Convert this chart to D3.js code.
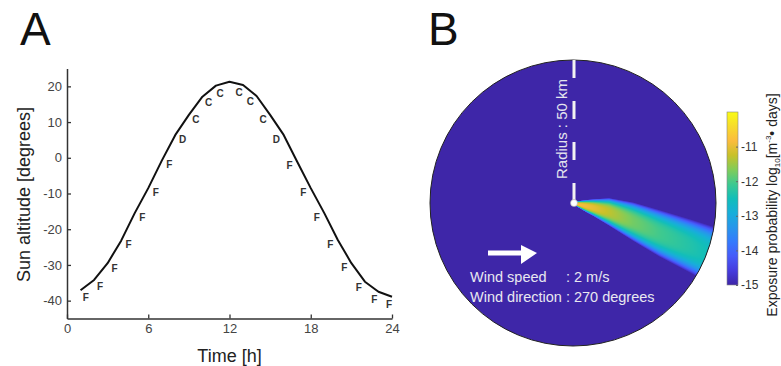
<!DOCTYPE html>
<html><head><meta charset="utf-8">
<script src="https://cdn.jsdelivr.net/npm/d3@7"></script>
<style>
body{margin:0;background:#fff}
svg{display:block}
text{font-family:"Liberation Sans",Arial,Helvetica,sans-serif}
</style>
</head><body>
<svg id="c" width="781" height="366"></svg>
<script>
// ---------- Panel A data ----------
const hours = [1,2,3,4,5,6,7,8,9,10,11,12,13,14,15,16,17,18,19,20,21,22,23,24];
const altitude = [-37.1,-34.2,-29.5,-23.2,-15.5,-8.5,-0.8,6.4,12.0,17.1,20.2,21.3,20.4,17.3,12.0,6.4,-1.1,-8.5,-15.5,-23.0,-29.5,-34.7,-37.5,-38.9];
const stability = ["F","F","F","F","F","F","F","D","C","C","C","","C","C","C","D","F","F","F","F","F","F","F","F"];
const xTicks = [0,6,12,18,24];
const yTicks = [-40,-30,-20,-10,0,10,20];

// ---------- Panel B data (plume read along downwind distance, km) ----------
const plumeDistKm      = [0, 4.5, 7, 12.6, 21, 30, 41.6, 50];
const plumeCenterKm    = [0, 1.05, 1.6, 3.1, 6.5, 10.5, 15.3, 19.0];
const plumeHalfWidthKm = [0.5, 2.2, 3.0, 4.9, 6.8, 8.2, 9.5, 10.5];
const plumeLogValue    = [-10.8, -10.9, -11.0, -11.3, -11.75, -12.05, -12.35, -12.6];
const radiusKm = 50;
const cbTicks = [-15,-14,-13,-12,-11];
const cbDomain = [-15,-10];
// parula colormap stops
const parula = ["#3e26a8","#463cde","#475bf9","#347afd","#2796eb","#17aeda","#12beb9","#3dc990","#81cc59","#c8c129","#fbbc3d","#f7db2b","#f9fb15"];

const svg = d3.select("#c");
const fmt = d => String(d);

// ================= Panel A =================
const x = d3.scaleLinear([0,24],[67,392]);
const y = d3.scaleLinear([-45,25],[318.5,68.5]);

const gA = svg.append("g");
const yAxis = gA.append("g").attr("transform",`translate(${x(0)},0)`)
  .call(d3.axisLeft(y).tickValues(yTicks).tickFormat(fmt).tickSizeInner(-4).tickSizeOuter(0).tickPadding(5));
const xAxis = gA.append("g").attr("transform",`translate(0,${y(-45)})`)
  .call(d3.axisBottom(x).tickValues(xTicks).tickFormat(fmt).tickSizeInner(-4).tickSizeOuter(0).tickPadding(5));
[yAxis,xAxis].forEach(a=>{
  a.selectAll("path.domain").attr("stroke","#333").attr("stroke-width",1.5);
  a.selectAll(".tick line").attr("stroke","#333").attr("stroke-width",1.3);
  a.selectAll(".tick text").attr("font-size",13).attr("fill","#444")
   .style("font-family",'"Liberation Sans",Arial,sans-serif');
});
xAxis.selectAll(".tick text").attr("dy","0.75em");

gA.append("path")
  .datum(hours.map((h,i)=>[h,altitude[i]]))
  .attr("fill","none").attr("stroke","#111").attr("stroke-width",2)
  .attr("stroke-linejoin","round")
  .attr("d", d3.line().x(d=>x(d[0])).y(d=>y(d[1])));

// stability class letters, offset below the curve along its normal
const pts = hours.map((h,i)=>[x(h),y(altitude[i])]);
const letters = stability.map((s,i)=>{
  const a = pts[Math.max(0,i-1)], b = pts[Math.min(pts.length-1,i+1)];
  let dx=b[0]-a[0], dy=b[1]-a[1]; const L=Math.hypot(dx,dy); dx/=L; dy/=L;
  const off=8.5;
  return {s, cx: pts[i][0] - dy*off, cy: pts[i][1] + dx*off};
}).filter(d=>d.s);
gA.selectAll("text.cls").data(letters).join("text").attr("class","cls")
  .attr("x",d=>d.cx).attr("y",d=>d.cy).attr("dy","0.36em")
  .attr("text-anchor","middle").attr("font-size",10).attr("font-weight","bold")
  .attr("fill","#333").text(d=>d.s);

gA.append("text").attr("x",(x(0)+x(24))/2).attr("y",362).attr("text-anchor","middle")
  .attr("font-size",18).attr("fill","#222").text("Time [h]");
gA.append("text").attr("transform",`translate(30,${(y(-45)+y(25))/2+1}) rotate(-90)`)
  .attr("text-anchor","middle").attr("font-size",18).attr("fill","#222").text("Sun altitude [degrees]");
svg.append("text").attr("x",20).attr("y",45).attr("font-size",46).attr("fill","#111").text("A");
svg.append("text").attr("x",428).attr("y",45).attr("font-size",46).attr("fill","#111").text("B");

// ================= Panel B =================
const cx = 573, cy = 203, R = 143;
const km = d3.scaleLinear([0,radiusKm],[0,R]);
const color = d3.scaleLinear()
  .domain(parula.map((c,i)=>cbDomain[0]+(cbDomain[1]-cbDomain[0])*i/(parula.length-1)))
  .range(parula).clamp(true);

const defs = svg.append("defs");
defs.append("clipPath").attr("id","circ").append("circle").attr("cx",cx).attr("cy",cy).attr("r",R);

const gB = svg.append("g");
gB.append("circle").attr("cx",cx).attr("cy",cy).attr("r",R).attr("fill",color(-15));

const centerS = d3.scaleLinear(plumeDistKm, plumeCenterKm);
const hwS = d3.scaleLinear(plumeDistKm, plumeHalfWidthKm);
const valS = d3.scaleLinear(plumeDistKm, plumeLogValue);
const cells = [];
for (let dx=0; dx<=R; dx++) {
  const xk = km.invert(dx+0.5);
  const cpx = km(centerS(xk)), hpx = km(hwS(xk)), v0 = valS(xk);
  for (let dy=Math.floor(cpx-hpx)-1; dy<=Math.ceil(cpx+hpx)+1; dy++) {
    const t = Math.abs(dy+0.5-cpx)/hpx;
    if (t>=1) continue;
    const v = v0 - (v0+15)*Math.pow(t,3);
    cells.push({dx,dy,v});
  }
}
gB.append("g").attr("clip-path","url(#circ)").attr("shape-rendering","crispEdges")
  .selectAll("rect").data(cells).join("rect")
  .attr("x",d=>cx+d.dx).attr("y",d=>cy+d.dy).attr("width",1).attr("height",1)
  .attr("fill",d=>color(d.v));

gB.append("circle").attr("cx",cx).attr("cy",cy).attr("r",R).attr("fill","none")
  .attr("stroke","#222").attr("stroke-width",1);

// radius dashed line
gB.append("line").attr("x1",cx+1).attr("x2",cx+1).attr("y1",cy-2).attr("y2",cy-R)
  .attr("stroke","#f2f2f2").attr("stroke-width",3).attr("stroke-dasharray","18,23");
gB.append("circle").attr("cx",cx+1).attr("cy",cy).attr("r",3.5).attr("fill","#fff")
  .attr("stroke","#aaa").attr("stroke-width",0.6);
gB.append("text").attr("transform",`translate(567,129) rotate(-90)`)
  .attr("text-anchor","middle").attr("font-size",15).attr("fill","#e4e4ee").text("Radius : 50 km");

// wind arrow
gB.append("path").attr("fill","#fff")
  .attr("d","M488,250.5 L521,250.5 L521,245 L537,253 L521,264 L521,255.5 L488,255.5 Z");
gB.append("text").attr("x",470).attr("y",301.5).attr("font-size",14.5).attr("fill","#e8e8f0")
  .text("Wind direction : 270 degrees");
const probe = gB.append("text").attr("font-size",14.5).style("white-space","pre").text("Wind direction ");
const colonX = 470 + probe.node().getComputedTextLength();
probe.remove();
gB.append("text").attr("x",470).attr("y",281.5).attr("font-size",14.5).attr("fill","#e8e8f0").text("Wind speed");
gB.append("text").attr("x",colonX).attr("y",281.5).attr("font-size",14.5).attr("fill","#e8e8f0").text(": 2 m/s");

// colorbar
const cb = d3.scaleLinear(cbDomain,[285,112]);
const grad = defs.append("linearGradient").attr("id","cbg").attr("x1",0).attr("y1",1).attr("x2",0).attr("y2",0);
parula.forEach((c,i)=>grad.append("stop").attr("offset",i/(parula.length-1)).attr("stop-color",c));
gB.append("rect").attr("x",727).attr("y",cb(-10)).attr("width",11).attr("height",cb(-15)-cb(-10))
  .attr("fill","url(#cbg)").attr("stroke","#888").attr("stroke-width",0.6);
const cbAxis = gB.append("g").attr("transform","translate(738,0)")
  .call(d3.axisRight(cb).tickValues(cbTicks).tickFormat(fmt).tickSizeInner(-2).tickSizeOuter(0).tickPadding(3));
cbAxis.select("path.domain").remove();
cbAxis.selectAll(".tick line").attr("stroke","#666");
cbAxis.selectAll(".tick text").attr("font-size",12).attr("fill","#333")
  .style("font-family",'"Liberation Sans",Arial,sans-serif');

const lab = gB.append("text").attr("transform","translate(777,205) rotate(-90)")
  .attr("text-anchor","middle").attr("font-size",14).attr("fill","#222");
lab.append("tspan").text("Exposure probability log");
lab.append("tspan").attr("font-size",8).attr("dy",3).text("10");
lab.append("tspan").attr("dy",-3).text("[m");
lab.append("tspan").attr("font-size",8).attr("dy",-6).text("-3");
lab.append("tspan").attr("dy",6).text("• days]");
</script>
</body></html>
